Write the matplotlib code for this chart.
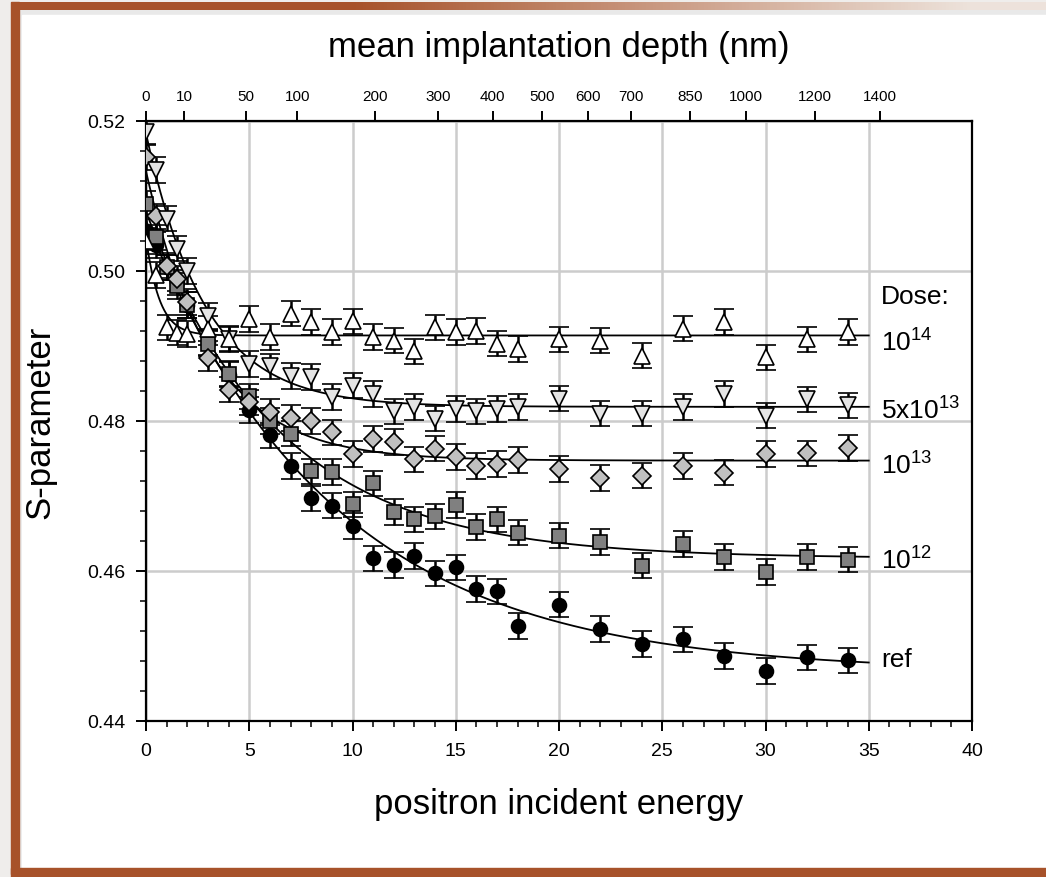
import numpy as np
import matplotlib.pyplot as plt
from matplotlib.patches import Rectangle

plt.rcParams['font.family'] = ['Liberation Sans', 'DejaVu Sans']
plt.rcParams['mathtext.fontset'] = 'custom'
plt.rcParams['mathtext.rm'] = 'Liberation Sans'
plt.rcParams['mathtext.it'] = 'Liberation Sans:italic'

# positron energy (keV) for every measured point
energy = [0, 0.5, 1, 1.5, 2, 3, 4, 5, 6, 7, 8, 9, 10, 11, 12, 13, 14, 15,
          16, 17, 18, 20, 22, 24, 26, 28, 30, 32, 34]

s_ref = [0.5053, 0.5035, 0.5005, 0.4985, 0.4955, 0.4905, 0.4862, 0.4815,
         0.4781, 0.4740, 0.4697, 0.4687, 0.4660, 0.4617, 0.4608, 0.4620,
         0.4597, 0.4605, 0.4576, 0.4573, 0.4527, 0.4555, 0.4523, 0.4503,
         0.4509, 0.4487, 0.4467, 0.4485, 0.4481]
s_1e12 = [0.5090, 0.5045, 0.5005, 0.4980, 0.4955, 0.4903, 0.4863, 0.4833,
          0.4800, 0.4783, 0.4733, 0.4732, 0.4689, 0.4717, 0.4679, 0.4669,
          0.4673, 0.4688, 0.4659, 0.4669, 0.4651, 0.4647, 0.4639, 0.4607,
          0.4636, 0.4619, 0.4599, 0.4619, 0.4615]
s_1e13 = [0.5152, 0.5073, 0.5007, 0.4990, 0.4959, 0.4884, 0.4842, 0.4825,
          0.4812, 0.4804, 0.4800, 0.4785, 0.4756, 0.4776, 0.4772, 0.4749,
          0.4763, 0.4752, 0.4740, 0.4743, 0.4748, 0.4736, 0.4724, 0.4727,
          0.4740, 0.4731, 0.4756, 0.4757, 0.4764]
s_5e13 = [0.5185, 0.5135, 0.5070, 0.5030, 0.5000, 0.4940, 0.4909, 0.4876,
          0.4873, 0.4860, 0.4859, 0.4832, 0.4847, 0.4836, 0.4813, 0.4819,
          0.4803, 0.4816, 0.4813, 0.4816, 0.4819, 0.4830, 0.4810, 0.4810,
          0.4819, 0.4836, 0.4807, 0.4829, 0.4821]
s_1e14 = [0.5040, 0.4995, 0.4925, 0.4918, 0.4916, 0.4923, 0.4910, 0.4936,
          0.4912, 0.4943, 0.4932, 0.4919, 0.4933, 0.4912, 0.4907, 0.4893,
          0.4925, 0.4919, 0.4920, 0.4903, 0.4896, 0.4909, 0.4907, 0.4887,
          0.4923, 0.4932, 0.4885, 0.4909, 0.4919]
s_err = 0.0017

dose_labels = ['ref', '$\\mathregular{10^{12}}$', '$\\mathregular{10^{13}}$',
               '5x$\\mathregular{10^{13}}$', '$\\mathregular{10^{14}}$']
label_y = [0.4483, 0.4614, 0.4741, 0.4815, 0.4905]

depth_ticks = [0, 10, 50, 100, 200, 300, 400, 500, 600, 700, 850, 1000, 1200, 1400]


#==============================================================================
def fit_curve(e, s):
    # S(E) = S_bulk + A*exp(-E/E0), E0 picked by grid search
    e = np.asarray(e, dtype=float)
    s = np.asarray(s, dtype=float)
    best = None
    for e0 in np.linspace(0.2, 30, 991):
        basis = np.column_stack([np.ones_like(e), np.exp(-e / e0)])
        coef = np.linalg.lstsq(basis, s, rcond=None)[0]
        r = np.sum((basis @ coef - s) ** 2)
        if best is None or r < best[0]:
            best = (r, e0, coef)
    _, e0, coef = best
    ef = np.linspace(0, 35, 400)
    return ef, coef[0] + coef[1] * np.exp(-ef / e0)


def depth_to_energy(d):
    return (np.asarray(d, dtype=float) / 3.6) ** (1 / 1.67)


def energy_to_depth(e):
    return 3.6 * np.clip(np.asarray(e, dtype=float), 0, None) ** 1.67


W, H = 1046, 878
fig = plt.figure(figsize=(W / 100, H / 100), dpi=100)

# slide-style frame behind the plot
bg = fig.add_axes([0, 0, 1, 1], zorder=-10)
bg.axis('off')
bg.add_patch(Rectangle((0, 0), W, H, color='#efedeb', zorder=1))
bg.add_patch(Rectangle((19, 11), W - 19, 861, color='#e9e9e9', zorder=1))
bg.add_patch(Rectangle((22, 16), W - 22, 852, color='white', zorder=1))
brown = np.array([0.655, 0.322, 0.165])
light = np.array([0.93, 0.89, 0.86])
t = np.clip((np.linspace(0, 1, 300) - 0.33) / 0.6, 0, 1)[:, None]
grad = (brown * (1 - t) + light * t)[None, :, :]
bg.imshow(grad, extent=(11, W, 11, 3), aspect='auto', zorder=5)
bg.add_patch(Rectangle((11, 3), 8, 872, color=tuple(brown), zorder=6))
bg.add_patch(Rectangle((11, 869), W - 11, 9, color=tuple(brown), zorder=6))
bg.set_xlim(0, W)
bg.set_ylim(H, 0)

ax = fig.add_axes([146 / W, 1 - 722 / H, 826 / W, 600 / H])

series = [
    (s_ref, 'o', 'black', 10),
    (s_1e12, 's', '#808080', 10.5),
    (s_1e13, 'D', '#c0c0c0', 9.5),
    (s_5e13, 'v', '#e4e4e4', 12),
    (s_1e14, '^', 'white', 12),
]

for vals, mk, fc, ms in series:
    ef, sf = fit_curve(energy, vals)
    ax.plot(ef, sf, color='black', lw=1.3, zorder=2)
    ax.errorbar(energy, vals, yerr=s_err, fmt=mk, ms=ms, mfc=fc, mec='black',
                mew=1.2, ecolor='black', elinewidth=1.8, capsize=7,
                capthick=1.8, zorder=3)

for lab, y in zip(['Dose:'] + dose_labels[::-1], [0.4967] + label_y[::-1]):
    ax.text(35.6, y, lab, fontsize=19, va='center', ha='left')

ax.set_xlim(0, 40)
ax.set_ylim(0.44, 0.52)
ax.set_xticks(np.arange(0, 41, 5))
ax.set_xticks(np.arange(0, 41, 1), minor=True)
ax.set_yticks(np.arange(0.44, 0.5201, 0.02))
ax.set_yticks(np.arange(0.44, 0.5201, 0.004), minor=True)
ax.yaxis.set_major_formatter(plt.FormatStrFormatter('%.2f'))
ax.grid(True, which='major', color='#cccccc', lw=1.8, zorder=0)
ax.set_axisbelow(True)
ax.tick_params(which='major', direction='out', length=7, width=1.4, labelsize=14, pad=8)
ax.tick_params(which='minor', direction='out', length=4, width=1.1)
for sp in ax.spines.values():
    sp.set_linewidth(1.6)
ax.set_xlabel('positron incident energy', fontsize=25, labelpad=20)
ax.set_ylabel('S-parameter', fontsize=25, labelpad=22)

top = ax.secondary_xaxis('top', functions=(energy_to_depth, depth_to_energy))
top.set_xticks(depth_ticks)
top.set_xticklabels([str(d) for d in depth_ticks])
top.tick_params(direction='out', length=7, width=1.4, labelsize=11, pad=6)
top.xaxis.set_minor_locator(plt.NullLocator())
top.set_xlabel('mean implantation depth (nm)', fontsize=25, labelpad=24)

fig.savefig('out.png', dpi=100)
